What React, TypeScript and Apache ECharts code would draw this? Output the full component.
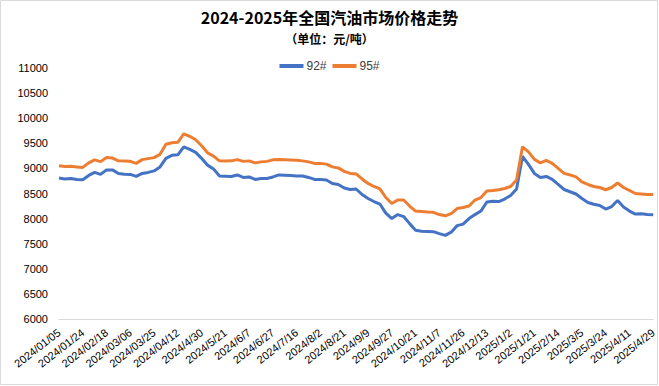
import React, { useEffect, useRef } from "react";
import * as echarts from "echarts";

const titleText = "2024-2025年全国汽油市场价格走势";
const subtitleText = "（单位：元/吨）";
const seriesNames = ["92#", "95#"];

const dates = [
  "2024/01/05", "2024/01/10", "2024/01/15", "2024/01/19",
  "2024/01/24", "2024/01/30", "2024/02/02", "2024/02/07",
  "2024/02/18", "2024/02/22", "2024/02/27", "2024/03/01",
  "2024/03/06", "2024/03/11", "2024/03/15", "2024/03/20",
  "2024/03/25", "2024/03/29", "2024/04/03", "2024/04/09",
  "2024/04/12", "2024/04/17", "2024/04/22", "2024/04/25",
  "2024/4/30", "2024/5/9", "2024/5/13", "2024/5/16",
  "2024/5/21", "2024/5/24", "2024/5/29", "2024/6/3",
  "2024/6/7", "2024/6/14", "2024/6/19", "2024/6/24",
  "2024/6/27", "2024/7/2", "2024/7/8", "2024/7/11",
  "2024/7/16", "2024/7/19", "2024/7/24", "2024/7/29",
  "2024/8/2", "2024/8/7", "2024/8/12", "2024/8/16",
  "2024/8/21", "2024/8/26", "2024/8/29", "2024/9/3",
  "2024/9/9", "2024/9/12", "2024/9/19", "2024/9/24",
  "2024/9/27", "2024/10/10", "2024/10/14", "2024/10/17",
  "2024/10/21", "2024/10/24", "2024/10/29", "2024/11/1",
  "2024/11/7", "2024/11/12", "2024/11/15", "2024/11/20",
  "2024/11/26", "2024/11/29", "2024/12/4", "2024/12/9",
  "2024/12/13", "2024/12/18", "2024/12/23", "2024/12/27",
  "2025/1/2", "2025/1/7", "2025/1/10", "2025/1/15",
  "2025/1/21", "2025/2/6", "2025/2/10", "2025/2/12",
  "2025/2/14", "2025/2/19", "2025/2/24", "2025/2/28",
  "2025/3/5", "2025/3/10", "2025/3/14", "2025/3/19",
  "2025/3/24", "2025/3/27", "2025/4/1", "2025/4/7",
  "2025/4/11", "2025/4/16", "2025/4/21", "2025/4/24",
  "2025/4/29",
];

const price92 = [
  8810, 8790, 8800, 8780,
  8775, 8860, 8920, 8880,
  8970, 8970, 8900, 8885,
  8880, 8840, 8900, 8920,
  8950, 9030, 9200, 9260,
  9270, 9430, 9380, 9320,
  9200, 9065, 8990, 8850,
  8845, 8840, 8870, 8820,
  8830, 8780, 8800, 8800,
  8830, 8870, 8865, 8860,
  8850, 8850, 8820, 8780,
  8780, 8770, 8700, 8680,
  8610, 8580, 8590, 8480,
  8400, 8340, 8290, 8110,
  8000, 8080, 8040, 7900,
  7770, 7750, 7745, 7740,
  7700, 7665, 7730, 7860,
  7890, 8000, 8080, 8150,
  8330, 8345, 8340, 8390,
  8460, 8590, 9240, 9080,
  8900, 8820, 8840, 8780,
  8680, 8580, 8535, 8490,
  8400, 8320, 8285, 8260,
  8190, 8240, 8360, 8230,
  8150, 8090, 8095, 8080,
  8075,
];

const price95 = [
  9055, 9040, 9045, 9030,
  9020, 9110, 9170, 9135,
  9215, 9205, 9150, 9145,
  9140, 9100, 9175, 9195,
  9215, 9280, 9480, 9510,
  9520, 9690, 9640, 9570,
  9450, 9310, 9245, 9150,
  9145, 9150, 9175, 9140,
  9150, 9110, 9130, 9140,
  9170, 9175, 9170, 9165,
  9160, 9150, 9130, 9100,
  9100, 9085, 9030, 9010,
  8940, 8900, 8890, 8790,
  8700, 8640, 8590, 8420,
  8300, 8370, 8370, 8250,
  8150, 8140, 8130, 8125,
  8080, 8055, 8100, 8200,
  8220, 8250, 8370, 8420,
  8550, 8560, 8575, 8600,
  8640, 8770, 9430, 9330,
  9180, 9110, 9160, 9100,
  9000, 8900, 8870, 8830,
  8730, 8680, 8640, 8620,
  8575, 8620, 8710, 8620,
  8560, 8500, 8490, 8480,
  8480,
];

const yMin = 6000;
const yMax = 11000;
const yStep = 500;

export default function App() {
  const ref = useRef<HTMLDivElement>(null);
  useEffect(() => {
    if (!ref.current) return;
    const chart = echarts.init(ref.current, undefined, { renderer: "svg" });
    chart.setOption({
      animation: false,
      backgroundColor: "#ffffff",
      title: [
        {
          text: titleText,
          left: "center",
          top: 5,
          padding: 0,
          textStyle: {
            fontFamily: "Noto Sans CJK SC",
            fontSize: 16,
            fontWeight: "bold",
            color: "#000000",
            lineHeight: 24,
          },
        },
        {
          text: subtitleText,
          left: "center",
          top: 30,
          padding: 0,
          textStyle: {
            fontFamily: "Noto Sans CJK SC",
            fontSize: 12,
            fontWeight: "bold",
            color: "#000000",
            lineHeight: 16,
          },
        },
      ],
      legend: {
        top: 55,
        left: "center",
        itemWidth: 24,
        itemHeight: 4,
        itemGap: 6,
        icon: "rect",
        textStyle: {
          fontFamily: "Liberation Sans",
          fontSize: 12,
          color: "#404040",
          padding: [0, 0, 0, -2],
        },
        data: seriesNames,
      },
      graphic: [
        {
          type: "rect",
          shape: { x: 0.5, y: 0.5, width: 657, height: 384 },
          style: { fill: "none", stroke: "#d9d9d9", lineWidth: 1 },
          silent: true,
        },
      ],
      grid: { left: 59, right: 3, top: 68, height: 251 },
      xAxis: {
        type: "category",
        data: dates,
        boundaryGap: false,
        axisLine: { show: true, lineStyle: { color: "#d9d9d9", width: 1 } },
        axisTick: { show: false },
        splitLine: { show: false },
        axisLabel: {
          interval: 3,
          rotate: 38,
          margin: 12,
          fontFamily: "Liberation Sans",
          fontSize: 11,
          color: "#000000",
        },
      },
      yAxis: {
        type: "value",
        min: yMin,
        max: yMax,
        interval: yStep,
        axisLine: { show: false },
        axisTick: { show: false },
        splitLine: { show: false },
        axisLabel: {
          margin: 11,
          fontFamily: "Liberation Sans",
          fontSize: 11,
          color: "#000000",
          formatter: (v: number) => String(v),
        },
      },
      series: [
        {
          name: seriesNames[0],
          type: "line",
          data: price92,
          symbol: "none",
          lineStyle: { color: "#4472C4", width: 3 },
          itemStyle: { color: "#4472C4" },
        },
        {
          name: seriesNames[1],
          type: "line",
          data: price95,
          symbol: "none",
          lineStyle: { color: "#ED7D31", width: 3 },
          itemStyle: { color: "#ED7D31" },
        },
      ],
    });
    return () => chart.dispose();
  }, []);
  return (
    <div
      ref={ref}
      style={{ position: "fixed", left: 0, top: 0, width: 659, height: 386 }}
    />
  );
}
